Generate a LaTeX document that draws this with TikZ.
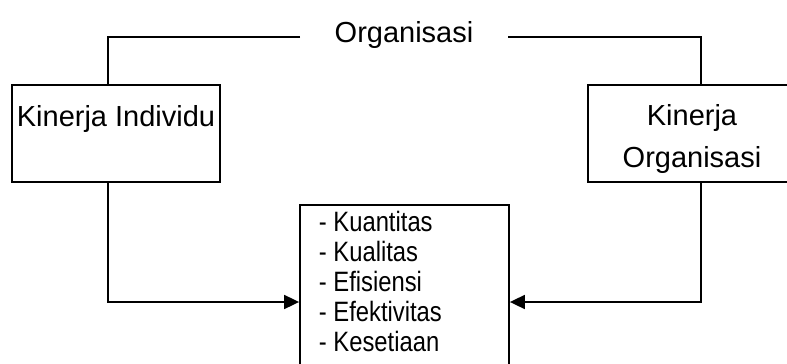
\documentclass[tikz,border=0pt]{standalone}
\usepackage{fontspec}
\setmainfont{Liberation Sans}
\newfontfamily\narrowfont[FakeStretch=0.85]{Liberation Sans}
\usetikzlibrary{arrows.meta}
\begin{document}
\begin{tikzpicture}[x=1pt,y=-1pt,
  line width=1.8pt,
  boxshape/.style={draw,line width=1.8pt,inner sep=0pt},
  bigtext/.style={font=\fontsize{29}{35}\selectfont,inner sep=0pt,anchor=base},
  listtext/.style={font=\narrowfont\fontsize{28}{30}\selectfont,inner sep=0pt,anchor=base west},
  flow/.style={-{Triangle[length=15pt,width=14pt]}}]
  \useasboundingbox (0,0) rectangle (787,364);
  \begin{scope}
  \clip (0,0) rectangle (787,364);

  % boxes
  \node[boxshape,minimum width=208pt,minimum height=97pt] (indiv) at (116,133.5) {};
  \node[boxshape,minimum width=208pt,minimum height=97pt] (org) at (692,133.5) {};
  \node[boxshape,minimum width=209pt,minimum height=215pt] (measures) at (404.5,312.5) {};

  % texts
  \node[bigtext] (title) at (404,42) {Organisasi};
  \node[bigtext] (indivtext) at (116,126) {Kinerja Individu};
  \node[bigtext] (orgtext1) at (692,125) {Kinerja};
  \node[bigtext] (orgtext2) at (692,167) {Organisasi};
  \foreach \t [count=\i] in {Kuantitas,Kualitas,Efisiensi,Efektivitas,Kesetiaan}
    \node[listtext] (item\i) at (318,{201+30*\i}) {- \t};

  % connector points
  \coordinate (tL) at (300,37);
  \coordinate (tR) at (508,37);
  \coordinate (cL) at (108,37);
  \coordinate (cR) at (701,37);
  \coordinate (aY) at (0,302);

  % top connectors
  \draw (tL) -- (cL) -- (cL |- indiv.north);
  \draw (tR) -- (cR) -- (cR |- org.north);

  % arrows into the list box
  \draw[flow] (cL |- indiv.south) -- (cL |- aY) -- (measures.west |- aY);
  \draw[flow] (cR |- org.south) -- (cR |- aY) -- (measures.east |- aY);
  \end{scope}
\end{tikzpicture}
\end{document}
